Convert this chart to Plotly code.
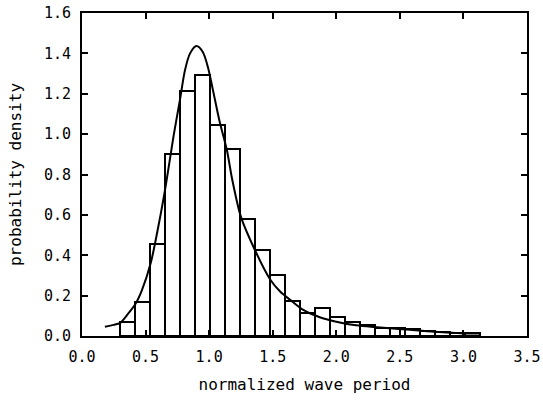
import plotly.graph_objects as go

# Histogram bins (left edges) and densities
bin_left = [0.297, 0.415, 0.533, 0.651, 0.769, 0.887, 1.005, 1.123, 1.241, 1.359,
            1.477, 1.595, 1.713, 1.831, 1.949, 2.067, 2.185, 2.303, 2.421, 2.539,
            2.657, 2.775, 2.893, 3.011]
bin_width = 0.118
density = [0.07, 0.17, 0.455, 0.90, 1.215, 1.295, 1.045, 0.925, 0.578, 0.426,
           0.30, 0.175, 0.115, 0.137, 0.096, 0.07, 0.056, 0.04, 0.04, 0.034,
           0.026, 0.02, 0.016, 0.015]

# Theoretical curve points
curve_x = [0.18, 0.25, 0.30, 0.36, 0.42, 0.47, 0.54, 0.61, 0.66, 0.72, 0.77, 0.81,
           0.85, 0.90, 0.95, 0.99, 1.03, 1.08, 1.14, 1.18, 1.25, 1.36, 1.48, 1.56,
           1.64, 1.74, 1.87, 2.0, 2.14, 2.27, 2.42, 2.55, 2.77, 3.03, 3.13]
curve_y = [0.046, 0.055, 0.065, 0.108, 0.158, 0.225, 0.36, 0.574, 0.75, 0.99, 1.168,
           1.317, 1.40, 1.436, 1.407, 1.333, 1.218, 1.069, 0.92, 0.78, 0.59, 0.426,
           0.28, 0.219, 0.178, 0.129, 0.093, 0.071, 0.054, 0.046, 0.038, 0.032,
           0.021, 0.013, 0.012]

x_ticks = [0.0, 0.5, 1.0, 1.5, 2.0, 2.5, 3.0, 3.5]
y_ticks = [0.0, 0.2, 0.4, 0.6, 0.8, 1.0, 1.2, 1.4, 1.6]

bin_center = [b + bin_width / 2 for b in bin_left]

fig = go.Figure()
fig.add_trace(go.Bar(
    x=bin_center, y=density, width=[bin_width] * len(bin_center),
    marker=dict(color="white", line=dict(color="black", width=2)),
    showlegend=False,
))
fig.add_trace(go.Scatter(
    x=curve_x, y=curve_y, mode="lines",
    line=dict(color="black", width=2, shape="spline", smoothing=0.8),
    showlegend=False,
))

font = dict(family="DejaVu Sans Mono", size=15, color="black")
fig.update_layout(
    width=543, height=407,
    margin=dict(l=82, r=16, t=13, b=71, autoexpand=False),
    paper_bgcolor="white", plot_bgcolor="white",
    font=font, bargap=0,
)
fig.update_xaxes(
    range=[0, 3.5], tickvals=x_ticks, ticktext=[f"{v:.1f}" for v in x_ticks],
    ticks="inside", ticklen=6, tickwidth=2, tickcolor="black",
    showline=True, linecolor="black", linewidth=2, mirror="allticks",
    showgrid=False, zeroline=False, ticklabelstandoff=6, automargin=False,
    title=dict(text="normalized wave period", font=dict(size=16), standoff=14),
)
fig.update_yaxes(
    range=[0, 1.6], tickvals=y_ticks, ticktext=[f"{v:.1f}" for v in y_ticks],
    ticks="inside", ticklen=6, tickwidth=2, tickcolor="black",
    showline=True, linecolor="black", linewidth=2, mirror="allticks",
    showgrid=False, zeroline=False, ticklabelstandoff=6, automargin=False,
    title=dict(text="probability density", font=dict(size=16), standoff=18),
)

fig.write_html("out.html")
